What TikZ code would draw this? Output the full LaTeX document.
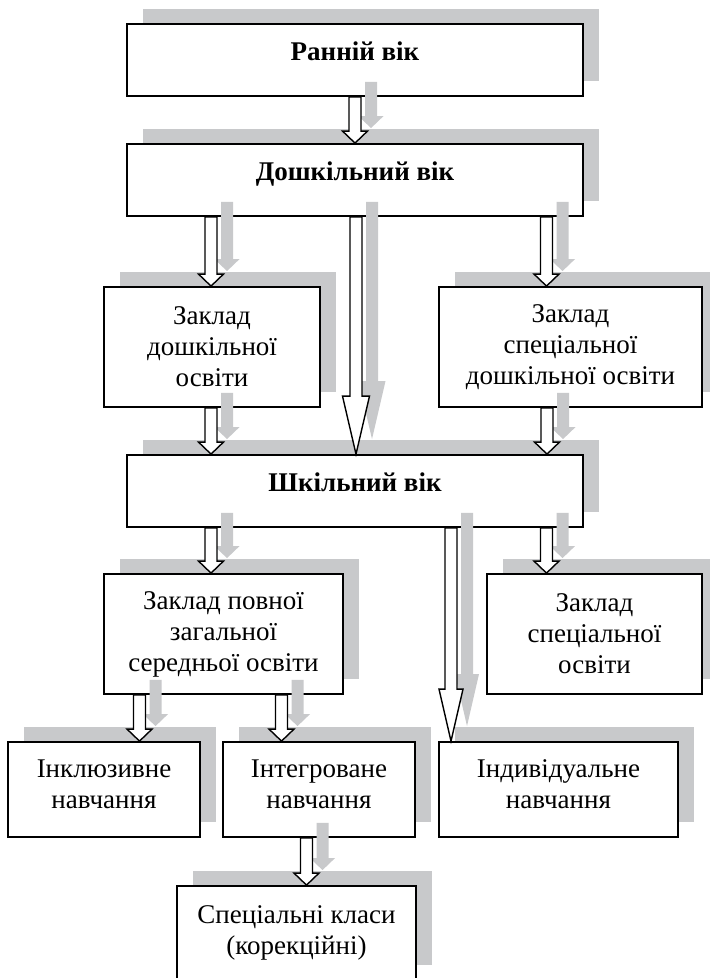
\documentclass[tikz,border=0pt]{standalone}
\usepackage{fontspec}
\setmainfont{Liberation Serif}
\usetikzlibrary{shadows,calc}
\definecolor{shgray}{RGB}{200,201,203}

\begin{document}
\begin{tikzpicture}[x=0.5pt,y=-0.5pt,
    box/.style={draw,line width=0.9pt,fill=white,align=center,font=\fontsize{13.5}{15.5}\selectfont,
        drop shadow={shadow xshift=8pt,shadow yshift=7.5pt,fill=shgray,opacity=1}},
    agebox/.style={box,minimum width=228pt,minimum height=36pt,font=\fontsize{13.5}{15.5}\selectfont\bfseries,
        text height=9.3pt,text depth=8.4pt},
    fatarrow/.style={draw,fill=white,line width=0.7pt,line join=miter},
    shadowarrow/.style={fill=shgray}]
    \useasboundingbox (0,0) rectangle (709,978);
    \node[agebox] (early) at (355,60) {Ранній вік};
    \node[agebox] (preschool) at (355,180) {Дошкільний вік};
    \node[box,minimum width=108pt,minimum height=60pt] (kindergarten) at (212,347) {Заклад\\дошкільної\\освіти};
    \node[box,minimum width=131.5pt,minimum height=60pt] (specpre) at (570.5,347) {Заклад\\спеціальної\\дошкільної освіти};
    \node[agebox] (school) at (355,491) {Шкільний вік};
    \node[box,minimum width=119.5pt,minimum height=60pt] (general) at (223.5,634) {Заклад повної\\загальної\\середньої освіти};
    \node[box,minimum width=107.5pt,minimum height=60pt] (special) at (594.5,634) {Заклад\\спеціальної\\освіти};
    \node[box,minimum width=96pt,minimum height=47.5pt,text depth=5.5pt] (inclusive) at (104,789.5) {Інклюзивне\\навчання};
    \node[box,minimum width=96pt,minimum height=47.5pt,text depth=5.5pt] (integrated) at (319,789.5) {Інтегроване\\навчання};
    \node[box,minimum width=119.5pt,minimum height=47.5pt,text depth=5.5pt] (individual) at (558.5,789.5) {Індивідуальне\\навчання};
    \node[box,minimum width=119.5pt,minimum height=47pt] (classes) at (296.5,933) {Спеціальні класи\\(корекційні)};
    \foreach \src/\dst/\ax/\hl/\hw in {early/preschool/355/12/12.5, preschool/kindergarten/211/12/12.5,
        preschool/school/356/58/13.5, preschool/specpre/546.5/12/12.5, kindergarten/school/211/12/12.5,
        specpre/school/547/12/12.5, school/general/211/12/12.5, school/individual/451/52/12,
        school/special/546.5/12/12.5, general/inclusive/139.5/12/12.5, general/integrated/281.5/12/12.5,
        integrated/classes/306.5/12/12.5} {
        \coordinate (s) at (\src.south -| \ax,0);
        \coordinate (t) at (\dst.north -| \ax,0);
        \foreach \dx/\dy/\sty in {16/-15/shadowarrow,0/0/fatarrow}
            \path[\sty] ($(s)+(\dx-6,\dy)$) -- ($(t)+(\dx-6,\dy-\hl)$) -- ($(t)+(\dx-\hw,\dy-\hl)$) -- ($(t)+(\dx,\dy)$)
                -- ($(t)+(\dx+\hw,\dy-\hl)$) -- ($(t)+(\dx+6,\dy-\hl)$) -- ($(s)+(\dx+6,\dy)$) -- cycle;
        }
\end{tikzpicture}
\end{document}
